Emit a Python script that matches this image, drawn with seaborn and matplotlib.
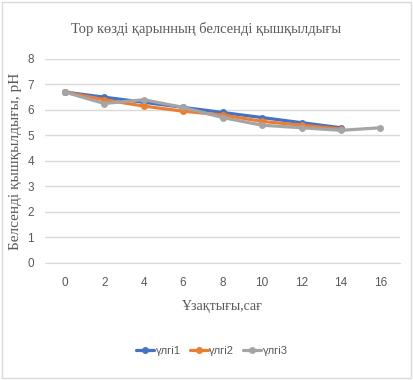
import matplotlib
matplotlib.use('Agg')

import numpy as np
import pandas as pd
import seaborn as sns
import matplotlib.pyplot as plt
from matplotlib.patches import Rectangle

# Data
hours = ['0', '2', '4', '6', '8', '10', '12', '14', '16']
sample1 = [6.7, 6.5, 6.3, 6.1, 5.9, 5.7, 5.5, 5.3, np.nan]
sample2 = [6.7, 6.4, 6.15, 5.95, 5.8, 5.55, 5.4, 5.25, np.nan]
sample3 = [6.7, 6.25, 6.4, 6.1, 5.7, 5.4, 5.3, 5.2, 5.3]
series_names = ['үлгі1', 'үлгі2', 'үлгі3']
colors = ['#4472C4', '#ED7D31', '#A5A5A5']

df = pd.DataFrame({'hour': hours * 3,
                   'pH': sample1 + sample2 + sample3,
                   'series': np.repeat(series_names, len(hours))}).dropna()

sns.set_style('white')
plt.rcParams['font.family'] = ['Liberation Sans', 'DejaVu Sans']

fig = plt.figure(figsize=(4.13, 3.8), dpi=100)
ax = fig.add_axes([0.109, 0.308, 0.86, 0.537])

sns.lineplot(data=df, x='hour', y='pH', hue='series', palette=colors,
             marker='o', markersize=5, markeredgewidth=0, linewidth=2.3,
             sort=False, ax=ax)

ax.set_xlim(-0.5, len(hours) - 0.5)
ax.set_ylim(0, 8)
ax.set_yticks(range(0, 9))
ax.grid(axis='y', color='#D9D9D9', linewidth=1)
ax.set_axisbelow(True)
for s in ['top', 'right', 'left']:
    ax.spines[s].set_visible(False)
ax.spines['bottom'].set_color('#D9D9D9')
ax.set_xticks(np.arange(-0.5, len(hours), 1.0), minor=True)
ax.tick_params(axis='x', which='major', length=0, pad=10, labelsize=8.5, labelcolor='#595959')
ax.tick_params(axis='x', which='minor', length=5, color='#D9D9D9')
ax.tick_params(axis='y', length=0, pad=8, labelsize=8.5, labelcolor='#595959')

ax.set_xlabel('Ұзақтығы,сағ', family='Liberation Serif', fontsize=10, color='#595959', labelpad=8)
ax.set_ylabel('Белсенді қышқылдығы, pH', family='Liberation Serif', fontsize=11, color='#595959', labelpad=4)
fig.text(0.5, 0.925, 'Тор көзді қарынның белсенді қышқылдығы', ha='center', va='center',
         family='Liberation Serif', fontsize=10.5, color='#595959')

ax.legend(loc='center', bbox_to_anchor=(0.47, -0.43), ncol=3, frameon=False,
          fontsize=8, labelcolor='#595959', handlelength=1.6, handletextpad=0.15,
          columnspacing=0.8)

fig.patches.append(Rectangle((0.005, 0.005), 0.99, 0.99, transform=fig.transFigure,
                             fill=False, edgecolor='#D9D9D9', linewidth=1))

fig.savefig('out.png', dpi=100)
